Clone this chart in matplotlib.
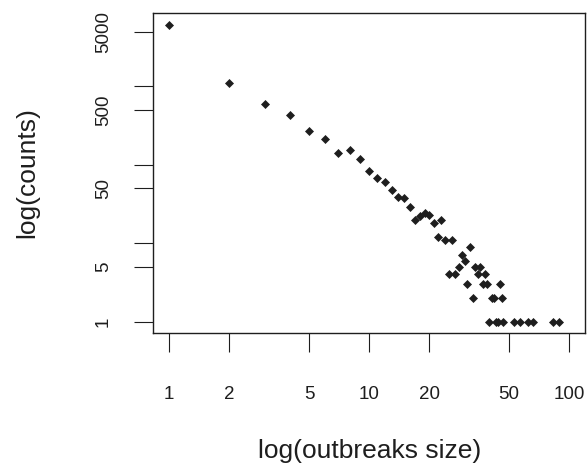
import matplotlib
matplotlib.use("Agg")
import matplotlib.pyplot as plt

# data: outbreak size vs number of outbreaks (counts)
sizes = [1, 2, 3, 4, 5, 6, 7, 8, 9, 10,
         11, 12, 13, 14, 15, 16, 17, 18, 19, 20,
         21, 22, 23, 24, 25, 26, 27, 28, 29, 30,
         31, 32, 33, 34, 35, 36, 37, 38, 39, 40,
         41, 42, 43, 44, 45, 46, 47, 53, 57, 62,
         66, 83, 89]
counts = [6090, 1120, 600, 437, 273, 216, 143, 156, 120, 84,
          69, 60, 48, 39, 38, 29, 20, 22, 24, 23,
          18, 12, 20, 11, 4, 11, 4, 5, 7, 6,
          3, 9, 2, 5, 4, 5, 3, 4, 3, 1,
          2, 2, 1, 1, 3, 2, 1, 1, 1, 1,
          1, 1, 1]

x_ticks = [1, 2, 5, 10, 20, 50, 100]
x_tick_labels = ["1", "2", "5", "10", "20", "50", "100"]
y_ticks = [1, 5, 10, 50, 100, 500, 1000, 5000]
y_tick_labels = ["1", "5", "", "50", "", "500", "", "5000"]

plt.rcParams['font.family'] = ['Liberation Sans', 'DejaVu Sans']
ink = "#1e1e1e"

fig = plt.figure(figsize=(5.87, 4.66), dpi=100)
ax = fig.add_axes([153.3 / 587, 1 - 332.7 / 466, (585 - 153.3) / 587, 320 / 466])

ax.plot(sizes, counts, linestyle="none", marker="D", markersize=3.6,
        markerfacecolor=ink, markeredgecolor=ink, markeredgewidth=0.5)

ax.set_xscale("log")
ax.set_yscale("log")
ax.set_xlim(10 ** -0.08, 10 ** 2.08)
ax.set_ylim(10 ** -0.1403, 10 ** 3.941)

ax.minorticks_off()
ax.set_xticks(x_ticks, x_tick_labels, fontsize=13.5, color=ink)
ax.set_yticks(y_ticks, y_tick_labels, fontsize=13.5, color=ink,
              rotation=90, va="center")

ax.tick_params(axis="x", direction="out", length=13.7, width=0.8,
               color=ink, pad=25)
ax.tick_params(axis="y", direction="out", length=13.7, width=0.8,
               color=ink, pad=16)

for s in ax.spines.values():
    s.set_linewidth(1.0)
    s.set_color(ink)

ax.set_xlabel("log(outbreaks size)", fontsize=19, color=ink, va="center")
ax.xaxis.set_label_coords(0.5, (332.7 - 451) / 320)
ax.set_ylabel("log(counts)", fontsize=19, color=ink, va="center")
ax.yaxis.set_label_coords((27.5 - 153.3) / 431.7, 0.5)

fig.savefig("out.png", dpi=100)
